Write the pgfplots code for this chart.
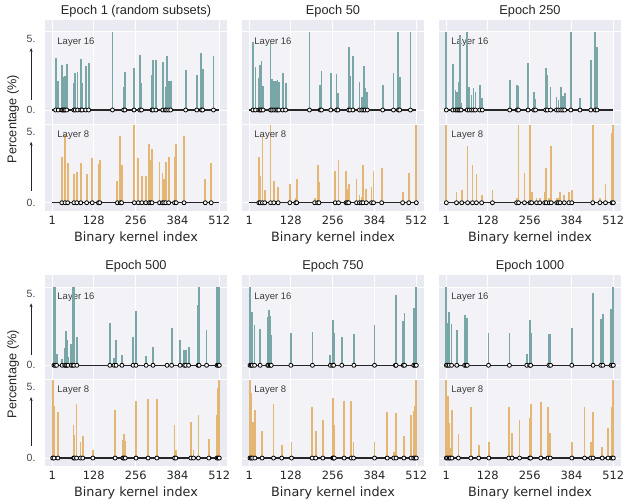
\documentclass[border=0pt]{standalone}
\usepackage{fontspec}
\setmainfont{Liberation Sans}
\newfontfamily\dejavu{DejaVu Sans}
\usepackage{pgfplots}
\pgfplotsset{compat=1.18}
\usepackage{pgfplotstable}
\usetikzlibrary{arrows.meta}
\definecolor{bgc}{HTML}{EAEAF2}
\definecolor{lightc}{HTML}{F3F3F7}
\definecolor{tealc}{HTML}{79A7A7}
\definecolor{tanc}{HTML}{E3B673}
\definecolor{txtc}{HTML}{262626}

% ---------- Epoch 1 ----------
\pgfplotstableread{
x y
11 3.64
19 2.04
30 3.17
33 2.18
37 2.35
40 2.42
45 3.24
67 1.92
71 2.63
78 2.65
88 3.62
92 1.92
103 3.10
112 3.29
185 5.50
219 1.64
223 2.68
251 2.93
269 3.90
274 1.92
306 2.46
309 3.52
318 3.50
339 3.36
347 1.64
351 3.83
357 2.02
363 2.04
409 2.79
443 2.44
457 4.04
461 2.86
494 3.80
}\EoneS
\pgfplotstableread{
x y
30 3.21
40 4.80
48 2.79
67 2.04
76 2.20
88 2.79
106 2.04
123 3.17
142 2.74
146 2.98
200 1.50
209 4.69
213 2.63
252 5.50
264 3.17
275 1.88
287 1.88
297 4.13
302 3.00
306 3.78
329 2.84
338 2.07
342 1.69
348 2.84
357 3.19
375 3.19
380 4.13
404 4.72
469 1.67
487 2.82
}\EoneE
% ---------- Epoch 50 ----------
\pgfplotstableread{
x y
12 4.77
20 3.05
30 2.25
34 3.19
38 3.43
43 1.71
66 4.69
70 2.18
76 2.07
82 2.07
87 2.11
91 1.95
103 2.58
112 1.90
185 5.50
218 1.76
222 2.77
250 2.58
268 2.51
272 1.20
305 4.41
309 2.39
318 3.80
338 1.95
345 0.89
351 3.12
355 1.55
362 1.24
409 1.76
442 2.58
457 5.50
461 2.35
494 5.50
}\EfiftyS
\pgfplotstableread{
x y
30 3.19
34 1.88
41 4.60
48 0.92
66 5.50
76 1.53
89 1.08
125 1.29
143 0.35
146 1.67
201 0.35
210 2.63
214 1.48
264 2.25
274 2.98
297 2.25
301 0.94
305 1.29
329 1.67
338 0.54
344 0.38
349 2.63
359 0.94
375 1.08
381 2.25
406 2.42
470 0.73
489 2.07
512 5.50
}\EfiftyE
% ---------- Epoch 250 ----------
\pgfplotstableread{
x y
1 5.50
21 3.22
29 1.41
34 1.27
39 1.97
42 5.26
46 0.52
65 5.50
71 1.62
78 1.03
84 1.57
90 1.27
103 1.74
111 0.82
195 2.11
218 1.78
222 1.69
251 3.29
269 1.27
274 0.75
305 2.93
310 2.44
320 1.64
338 0.94
344 0.70
351 1.64
357 0.99
363 1.22
382 5.50
410 0.87
443 3.54
457 5.50
462 4.44
}\EtwofiftyS
\pgfplotstableread{
x y
1 5.50
32 0.73
48 0.89
66 3.99
81 2.65
93 2.02
109 0.54
142 0.89
216 0.35
222 5.50
240 2.07
257 5.50
262 0.73
277 0.35
287 0.35
302 0.73
307 2.46
316 0.35
322 3.99
339 0.30
344 0.35
349 0.73
362 0.54
376 0.73
385 0.89
449 5.50
471 0.30
488 1.31
508 4.93
512 5.50
}\EtwofiftyE
% ---------- Epoch 500 ----------
\pgfplotstableread{
x y
6 5.50
10 5.50
14 0.77
31 0.42
39 1.20
42 2.42
45 1.76
49 0.61
59 1.48
64 5.50
67 5.50
76 2.00
177 3.00
190 0.52
196 1.78
214 0.75
248 2.02
257 3.85
288 0.68
309 1.29
352 0.07
366 2.65
392 1.78
405 1.08
409 1.08
418 1.31
447 4.23
450 5.50
473 2.46
505 5.50
509 3.12
512 5.50
}\EfivehS
\pgfplotstableread{
x y
2 5.50
6 3.64
18 3.22
66 2.30
69 1.64
75 3.83
87 1.10
94 1.53
125 0.59
193 3.40
217 1.29
220 1.71
224 1.17
257 3.99
294 4.18
321 4.18
375 2.30
379 0.59
425 2.51
433 0.59
448 3.05
480 1.34
505 3.05
509 4.93
512 5.50
}\EfivehE
% ---------- Epoch 750 ----------
\pgfplotstableread{
x y
3 5.50
7 2.93
10 3.76
17 2.86
34 2.56
57 3.40
60 3.87
65 3.45
68 2.11
128 2.28
194 2.35
249 0.75
256 3.17
259 2.28
284 2.00
321 2.23
384 2.82
448 4.06
450 4.93
472 3.12
476 3.69
504 4.01
508 2.70
512 5.50
}\EsevenS
\pgfplotstableread{
x y
3 5.50
7 4.55
11 2.51
18 3.40
40 1.92
75 3.80
100 0.94
130 1.15
193 3.62
204 1.92
226 2.68
256 3.05
258 4.20
261 2.32
291 3.99
313 3.99
320 1.15
384 1.15
423 3.22
443 0.40
450 3.15
474 1.53
496 3.05
504 3.29
508 3.69
512 5.50
}\EsevenE
% ---------- Epoch 1000 ----------
\pgfplotstableread{
x y
1 5.50
5 3.00
10 3.76
17 2.89
33 2.51
57 3.54
61 2.30
65 3.36
130 2.25
194 2.30
247 0.82
256 3.17
259 2.30
315 2.23
320 2.18
385 2.65
450 5.07
474 3.29
480 3.64
505 3.94
510 2.72
512 5.50
}\EthouS
\pgfplotstableread{
x y
1 5.50
5 4.34
10 2.46
13 0.70
18 3.40
38 1.71
76 3.59
100 0.94
131 1.13
192 3.59
202 1.76
225 2.65
256 2.82
259 3.80
290 3.94
312 3.59
319 1.76
385 1.13
424 3.59
443 1.13
450 3.22
478 0.75
496 2.11
508 3.59
512 5.50
}\EthouE

\pgfplotsset{
  boxstyle/.style={
    scale only axis, width=182pt, height=191pt, anchor=south west,
    xmin=-21.5, xmax=535.5, clip=false,
  },
  panelstyle/.style={
    boxstyle, ymin=-0.56, ymax=12.89,
    axis background/.style={fill=bgc},
    axis line style={draw=none}, major tick length=0pt,
    xtick={1,128,256,384,512}, xticklabels={1,128,256,384,512},
    ytick=\empty,
    xticklabel style={font=\dejavu\fontsize{11.4}{13}\selectfont, text=txtc, anchor=base, yshift=-13.6pt},
    xlabel={Binary kernel index},
    xlabel style={font=\dejavu\fontsize{12.8}{15}\selectfont, text=txtc, at={(axis description cs:0.5,0)}, anchor=base, yshift=-30.6pt},
    title style={font=\fontsize{12.8}{15}\selectfont, text=txtc, at={(axis description cs:0.5,1)}, anchor=base, yshift=-0.6pt},
  },
  firstcol/.style={
    ytick={0,5,6.53,11.53}, yticklabels={0.,5.,0.,5.},
    yticklabel style={font=\fontsize{10.5}{12}\selectfont, text=txtc!85, anchor=east, inner sep=0pt, xshift=-9.3pt},
    ylabel={Percentage (\%)},
    ylabel style={font=\fontsize{12.7}{15}\selectfont, text=txtc, at={(axis description cs:-0.176,0.48)}, anchor=center},
  },
  stemS/.style={ycomb, draw=tealc, line width=1.8pt, mark=none},
  stemE/.style={ycomb, draw=tanc, line width=1.8pt, mark=none},
  circ/.style={only marks, mark=*, mark size=2pt, mark options={fill=white, draw=black, line width=0.8pt}},
  base/.style={black!85, line width=1.5pt, mark=none},
}

\newcommand{\panel}[7]{%
\begin{axis}[panelstyle, at={(#1,#2)}, title={#3}, #6]
\fill[lightc] (axis cs:1,0) rectangle (axis cs:512,5.5);
\fill[lightc] (axis cs:1,6.53) rectangle (axis cs:512,12.03);
\draw[white, line width=1pt] (axis cs:1,-0.56) -- (axis cs:1,12.89);
\draw[white, line width=1pt] (axis cs:128,-0.56) -- (axis cs:128,12.89);
\draw[white, line width=1pt] (axis cs:256,-0.56) -- (axis cs:256,12.89);
\draw[white, line width=1pt] (axis cs:384,-0.56) -- (axis cs:384,12.89);
\draw[white, line width=1pt] (axis cs:512,-0.56) -- (axis cs:512,12.89);
\draw[white, line width=1pt] (axis cs:-21.5,0) -- (axis cs:535.5,0);
\draw[white, line width=1pt] (axis cs:-21.5,5.5) -- (axis cs:535.5,5.5);
\draw[white, line width=1pt] (axis cs:-21.5,6.53) -- (axis cs:535.5,6.53);
\draw[white, line width=1pt] (axis cs:-21.5,12.03) -- (axis cs:535.5,12.03);
\addplot[stemE] table[x=x, y=y] {#5};
\addplot[base] coordinates {(1,0) (512,0)};
\addplot[circ] table[x=x, y expr=0] {#5};
\node[anchor=west, inner sep=0pt, font=\fontsize{9.5}{11}\selectfont, text=txtc!90] at (axis cs:16,11.33) {Layer 16};
\node[anchor=west, inner sep=0pt, font=\fontsize{9.5}{11}\selectfont, text=txtc!90] at (axis cs:16,4.77) {Layer 8};
#7
\end{axis}
\begin{axis}[boxstyle, at={(#1,#2)}, ymin=-7.09, ymax=6.36, hide axis]
\addplot[stemS] table[x=x, y=y] {#4};
\addplot[base] coordinates {(1,0) (512,0)};
\addplot[circ] table[x=x, y expr=0] {#4};
\end{axis}}

\newcommand{\myarrows}{%
\draw[-{Stealth[length=4pt,width=3pt]}, line width=0.8pt, txtc] (axis cs:-64,7.23) -- (axis cs:-64,10.9);
\draw[-{Stealth[length=4pt,width=3pt]}, line width=0.8pt, txtc] (axis cs:-64,0.85) -- (axis cs:-64,4.3);
}

\begin{document}
\begin{tikzpicture}
\path[use as bounding box] (0,0) rectangle (626pt,501pt);
\panel{45pt}{290.3pt}{Epoch 1 (random subsets)}{\EoneS}{\EoneE}{firstcol}{\myarrows}
\panel{242pt}{290.3pt}{Epoch 50}{\EfiftyS}{\EfiftyE}{}{}
\panel{439pt}{290.3pt}{Epoch 250}{\EtwofiftyS}{\EtwofiftyE}{}{}
\panel{45pt}{35pt}{Epoch 500}{\EfivehS}{\EfivehE}{firstcol}{\myarrows}
\panel{242pt}{35pt}{Epoch 750}{\EsevenS}{\EsevenE}{}{}
\panel{439pt}{35pt}{Epoch 1000}{\EthouS}{\EthouE}{}{}
\end{tikzpicture}
\end{document}
